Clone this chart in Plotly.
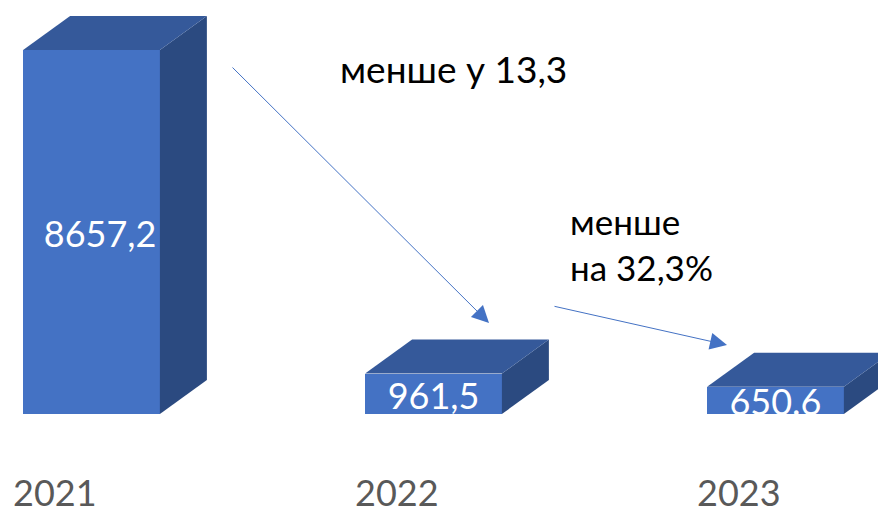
import plotly.graph_objects as go

# ---- data ----
years = ["2021", "2022", "2023"]
values = [8657.2, 961.5, 650.6]
value_labels = ["8657,2", "961,5", "650.6"]
note_top = "менше у 13,3"
note_mid_1 = "менше"
note_mid_2 = "на 32,3%"

# ---- geometry / styling ----
W, H = 878, 514
PLOT_H = 414            # plot area height in px (baseline at y=414)
STEP = 342.0            # px between categories
X0PX = 91.5             # px of first category centre
YMAX = 9846.0
BAR_W = 0.40
DX = 47 / STEP
DY = 34 / PLOT_H * YMAX
LABEL_DROP = 6 / PLOT_H * YMAX   # push value labels slightly down

FRONT = "#4472C4"
TOP = "#35599A"
SIDE = "#2B4A80"
FONT = "Lato, Carlito, 'Open Sans', sans-serif"


def px_x(px):
    return (px - X0PX) / STEP


def px_y(py):
    return (PLOT_H - py) / PLOT_H * YMAX


xs = list(range(len(years)))

fig = go.Figure()
fig.add_trace(go.Bar(x=xs, y=values, width=BAR_W, marker=dict(color=FRONT, line=dict(width=0)),
                     hoverinfo="skip", showlegend=False))

for x, v in zip(xs, values):
    x0, x1 = x - BAR_W / 2, x + BAR_W / 2
    # side face
    fig.add_trace(go.Scatter(x=[x1, x1 + DX, x1 + DX, x1, x1], y=[0, DY, v + DY, v, 0],
                             fill="toself", fillcolor=SIDE, mode="lines", line=dict(width=0),
                             hoverinfo="skip", showlegend=False))
    # top face
    fig.add_trace(go.Scatter(x=[x0, x1, x1 + DX, x0 + DX, x0], y=[v, v, v + DY, v + DY, v],
                             fill="toself", fillcolor=TOP, mode="lines", line=dict(width=0),
                             hoverinfo="skip", showlegend=False))

label_x = [x + (0.025 if v == max(values) else 0) for x, v in zip(xs, values)]
fig.add_trace(go.Scatter(x=label_x, y=[v / 2 - LABEL_DROP for v in values], mode="text",
                         text=value_labels, textposition="middle center", cliponaxis=True,
                         textfont=dict(family=FONT, size=36, color="white"),
                         hoverinfo="skip", showlegend=False))

annotations = []
for x, yr in zip(xs, years):
    annotations.append(dict(x=x, y=0, xref="x", yref="y", text=yr, showarrow=False,
                            xanchor="center", yanchor="middle", xshift=-37, yshift=-78,
                            font=dict(family=FONT, size=36, color="#595959")))

annotations += [
    dict(x=px_x(338), y=px_y(68), xref="x", yref="y", text=note_top, showarrow=False,
         xanchor="left", yanchor="middle", font=dict(family=FONT, size=37, color="black")),
    dict(x=px_x(568), y=px_y(221), xref="x", yref="y", text=note_mid_1, showarrow=False,
         xanchor="left", yanchor="middle", font=dict(family=FONT, size=35, color="black")),
    dict(x=px_x(568), y=px_y(267), xref="x", yref="y", text=note_mid_2, showarrow=False,
         xanchor="left", yanchor="middle", font=dict(family=FONT, size=35, color="black")),
    dict(x=px_x(489), y=px_y(323), ax=px_x(231), ay=px_y(66), xref="x", yref="y",
         axref="x", ayref="y", text="", showarrow=True, arrowhead=2, arrowsize=3.4,
         arrowwidth=1, arrowcolor=FRONT),
    dict(x=px_x(727), y=px_y(345), ax=px_x(553), ay=px_y(306), xref="x", yref="y",
         axref="x", ayref="y", text="", showarrow=True, arrowhead=2, arrowsize=3.4,
         arrowwidth=1, arrowcolor=FRONT),
]

fig.update_layout(
    width=W, height=H,
    margin=dict(l=0, r=0, t=0, b=H - PLOT_H, pad=0),
    paper_bgcolor="white", plot_bgcolor="white",
    xaxis=dict(range=[px_x(0), px_x(W)], visible=False, fixedrange=True),
    yaxis=dict(range=[0, YMAX], visible=False, fixedrange=True),
    annotations=annotations,
    bargap=0,
)

fig.write_html("out.html")
